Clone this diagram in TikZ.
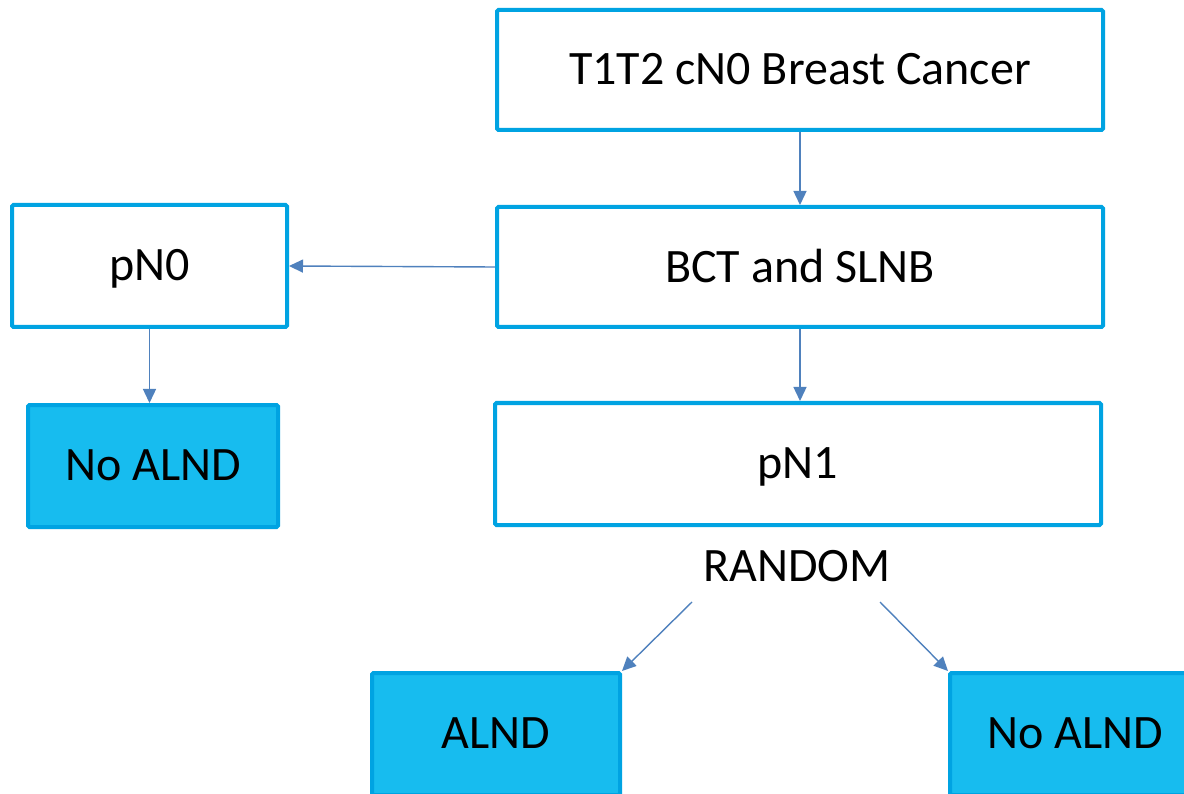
\documentclass[tikz,border=0pt]{standalone}
\usepackage{fontspec}
\setmainfont{Carlito}
\usepackage{xcolor}
\usetikzlibrary{arrows.meta}
\definecolor{boxblue}{HTML}{00A3E2}
\definecolor{fillblue}{HTML}{17BCEF}
\definecolor{arrowblue}{HTML}{4F81BD}
\tikzstyle{stagebox} = [draw=boxblue, line width=4pt, rounded corners=1.5pt, fill=white, minimum width=606pt, minimum height=120pt, inner sep=0pt, text depth=2pt, font=\fontsize{48}{54}\selectfont]
\tikzstyle{outcome} = [stagebox, fill=fillblue, minimum width=250pt, minimum height=122pt]
\tikzstyle{arrow} = [line width=1.4pt, arrowblue, -{Triangle[length=14pt,width=13pt]}]

\begin{document}
\begin{tikzpicture}[x=1pt,y=-1pt]
        \clip (0,0) rectangle (1184,794);
        \fill[white] (0,0) rectangle (1184,794);

        % main column
        \node[stagebox] (cancer) at (800,70) {T1T2 cN0 Breast Cancer};
        \node[stagebox] (bct) at (800,267) {BCT and SLNB};
        \node[stagebox, minimum height=122pt] (pn1) at (798,464) {pN1};
        \node[font=\fontsize{48}{54}\selectfont] (random) at (797,566) {RANDOM};

        % negative node branch
        \node[stagebox, minimum width=275pt, minimum height=122pt] (pn0) at (149.5,266) {pN0};
        \node[outcome] (noalndA) at (153,466) {No ALND};

        % randomised arms
        \node[outcome, minimum width=248pt] (alnd) at (496,734) {ALND};
        \node[outcome] (noalndB) at (1075,734) {No ALND};

        \coordinate (armL) at (692,602);
        \coordinate (armR) at (880,602);

        % Draw Arrows
        \draw[arrow] (cancer) -- (bct);
        \draw[arrow] (bct.west) -- (pn0.east);
        \draw[arrow] (bct) -- (bct |- pn1.north);
        \draw[arrow] (pn0) -- (pn0 |- noalndA.north);
        \draw[arrow] (armL) -- (alnd.north east);
        \draw[arrow] (armR) -- (noalndB.north west);

    \end{tikzpicture}
\end{document}
